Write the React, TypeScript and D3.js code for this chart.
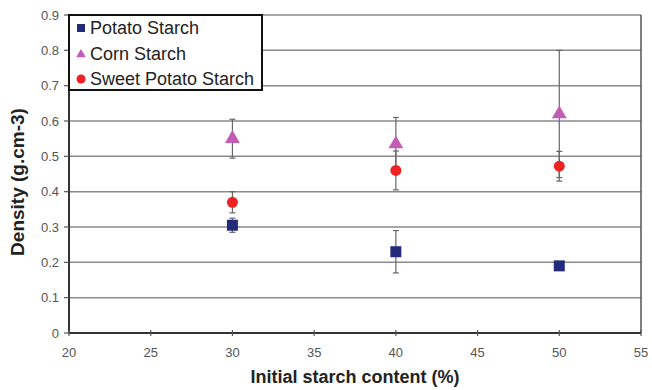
import React from "react";
import * as d3 from "d3";

const xTicks = [20, 25, 30, 35, 40, 45, 50, 55];
const yTicks = [0, 0.1, 0.2, 0.3, 0.4, 0.5, 0.6, 0.7, 0.8, 0.9];
const contents = [30, 40, 50];

const seriesNames = ["Potato Starch", "Corn Starch", "Sweet Potato Starch"];
const seriesColors = ["#232a7a", "#c25cb4", "#ee2222"];
const potatoMeans = [0.305, 0.23, 0.19];
const potatoErr = [0.02, 0.06, 0.012];
const cornMeans = [0.55, 0.535, 0.62];
const cornErr = [0.055, 0.075, 0.18];
const sweetMeans = [0.37, 0.46, 0.472];
const sweetErr = [0.03, 0.055, 0.042];

const W = 652, H = 390;
const margin = { left: 69, top: 15, right: 11, bottom: 57 };

export default function App() {
  const x = d3.scaleLinear().domain([20, 55]).range([margin.left, W - margin.right]);
  const y = d3.scaleLinear().domain([0, 0.9]).range([H - margin.bottom, margin.top]);

  const series = [
    { means: potatoMeans, err: potatoErr },
    { means: cornMeans, err: cornErr },
    { means: sweetMeans, err: sweetErr },
  ];

  const marker = (i: number, cx: number, cy: number, key?: string) => {
    const c = seriesColors[i];
    if (i === 0) return <rect key={key} x={cx - 5.5} y={cy - 5.5} width={11} height={11} fill={c} />;
    if (i === 1) return <path key={key} d={d3.symbol(d3.symbolTriangle, 95)()!} transform={`translate(${cx},${cy})`} fill={c} />;
    return <circle key={key} cx={cx} cy={cy} r={5.5} fill={c} />;
  };

  const font = "Arial, 'Liberation Sans', sans-serif";
  const lx = x(20), ly = y(0.9);

  return (
    <svg width={W} height={H} style={{ position: "absolute", left: 0, top: 0 }} fontFamily={font}>
      <rect width={W} height={H} fill="#fff" />
      {/* gridlines */}
      {yTicks.slice(1).map((t) => (
        <line key={t} x1={x(20)} x2={x(55)} y1={y(t)} y2={y(t)} stroke="#8a8a8a" strokeWidth={1.5} />
      ))}
      <line x1={x(55)} x2={x(55)} y1={y(0.9)} y2={y(0)} stroke="#555" strokeWidth={1.5} />
      {/* axes */}
      <line x1={x(20)} x2={x(20)} y1={y(0.9)} y2={y(0)} stroke="#333" strokeWidth={2} />
      <line x1={x(20)} x2={x(55)} y1={y(0)} y2={y(0)} stroke="#333" strokeWidth={2} />
      {yTicks.map((t) => (
        <g key={t}>
          <line x1={x(20) - 5} x2={x(20)} y1={y(t)} y2={y(t)} stroke="#555" strokeWidth={1.2} />
          <text x={x(20) - 10} y={y(t)} dy="0.35em" textAnchor="end" fontSize={13} fill="#555">{t}</text>
        </g>
      ))}
      {xTicks.map((t) => (
        <g key={t}>
          <line x1={x(t)} x2={x(t)} y1={y(0) - 3} y2={y(0) + 3} stroke="#555" strokeWidth={1.2} />
          <text x={x(t)} y={y(0) + 24} textAnchor="middle" fontSize={13} fill="#555">{t}</text>
        </g>
      ))}
      <text x={355} y={383} textAnchor="middle" fontSize={18} fontWeight="bold" fill="#222">Initial starch content (%)</text>
      <text transform={`translate(24,${182}) rotate(-90)`} textAnchor="middle" fontSize={19} fontWeight="bold" fill="#222">Density (g.cm-3)</text>
      {/* error bars */}
      {series.map((s, i) =>
        contents.map((cx, j) => {
          const px = x(cx);
          const lo = y(s.means[j] - s.err[j]);
          const hi = y(s.means[j] + s.err[j]);
          return (
            <g key={`e${i}-${j}`} stroke="#666" strokeWidth={1.2}>
              <line x1={px} x2={px} y1={lo} y2={hi} />
              <line x1={px - 3} x2={px + 3} y1={lo} y2={lo} />
              <line x1={px - 3} x2={px + 3} y1={hi} y2={hi} />
            </g>
          );
        })
      )}
      {series.map((s, i) => contents.map((cx, j) => marker(i, x(cx), y(s.means[j]), `m${i}-${j}`)))}
      {/* legend */}
      <g>
        <rect x={lx} y={ly} width={193} height={75} fill="#fff" stroke="#111" strokeWidth={2} />
        {seriesNames.map((n, i) => {
          const cy = ly + 13 + i * 25.5;
          return (
            <g key={n}>
              {i === 0 ? (
                <rect x={lx + 8} y={cy - 4} width={8} height={8} fill={seriesColors[0]} />
              ) : i === 1 ? (
                <path d={d3.symbol(d3.symbolTriangle, 40)()!} transform={`translate(${lx + 12},${cy + 1})`} fill={seriesColors[1]} />
              ) : (
                <circle cx={lx + 12} cy={cy} r={4.5} fill={seriesColors[2]} />
              )}
              <text x={lx + 21} y={cy} dy="0.36em" fontSize={18} fill="#222">{n}</text>
            </g>
          );
        })}
      </g>
    </svg>
  );
}
